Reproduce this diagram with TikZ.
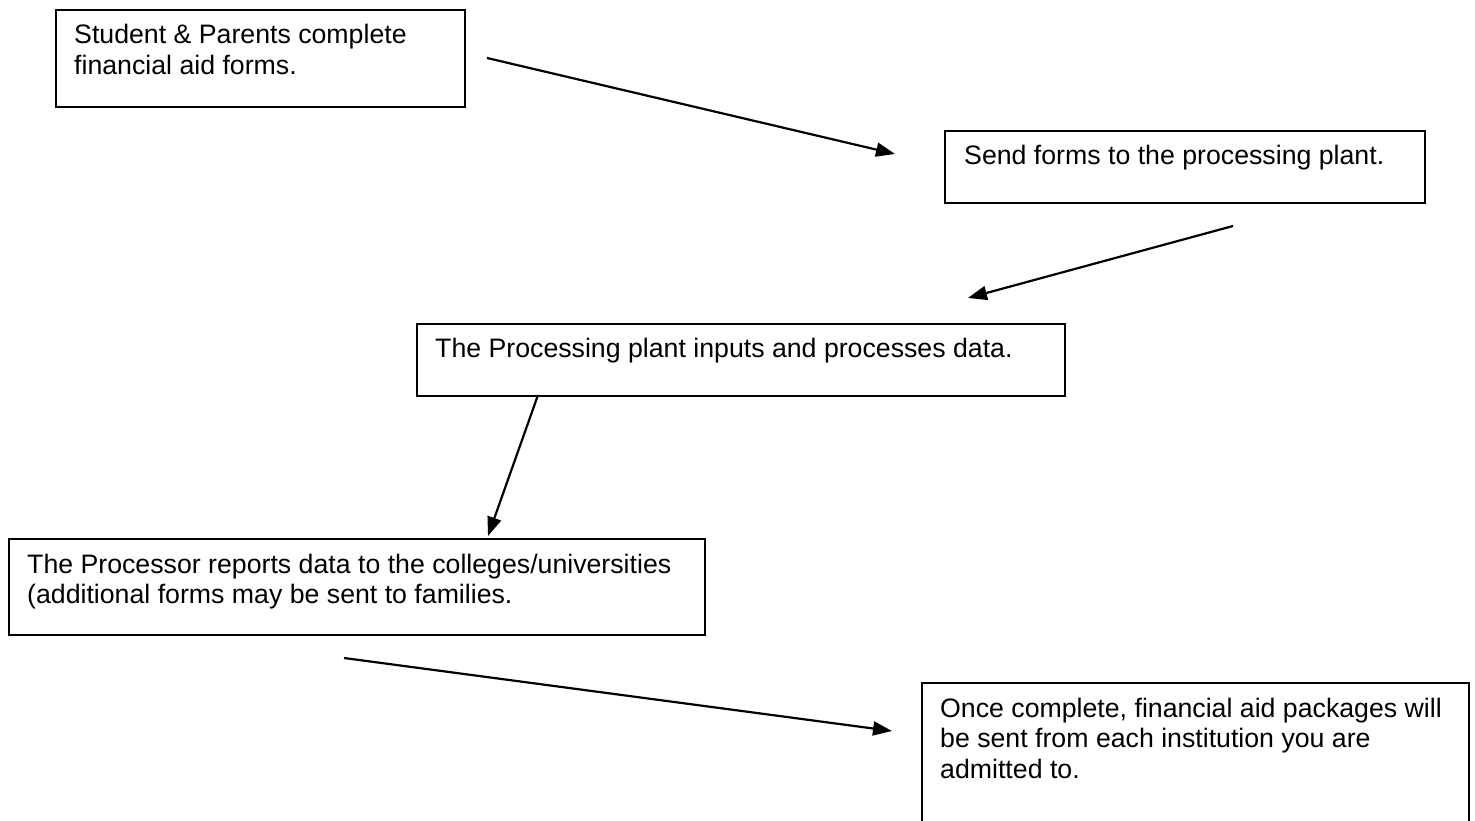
\documentclass[tikz,border=0pt]{standalone}
\usepackage{fontspec}
\setmainfont{Liberation Sans}
\usetikzlibrary{arrows.meta}
\begin{document}
\begin{tikzpicture}[x=1pt,y=-1pt,
  box/.style={draw, line width=1.6pt, rectangle, inner sep=0pt, anchor=north west},
  txt/.style={anchor=base west, inner sep=0pt, align=left, font=\fontsize{26.7}{30.5}\selectfont},
  arr/.style={line width=2.2pt, -{Triangle[length=19pt,width=14pt]}}]
\useasboundingbox (0,0) rectangle (1475,821);
% boxes
\node[box, minimum width=409pt, minimum height=97pt] (b1) at (55,9) {};
\node[box, minimum width=480pt, minimum height=72pt] (b2) at (944,130) {};
\node[box, minimum width=648pt, minimum height=72pt] (b3) at (416,323) {};
\node[box, minimum width=696pt, minimum height=96pt] (b4) at (8,538) {};
\node[box, minimum width=547pt, minimum height=150pt] (b5) at (921,682) {};
% texts
\node[txt] (t1a) at (74,44) {Student \& Parents complete};
\node[txt] (t1b) at (74,74.5) {financial aid forms.};
\node[txt] (t2) at (964,165) {Send forms to the processing plant.};
\node[txt] (t3) at (435,357) {The Processing plant inputs and processes data.};
\node[txt] (t4a) at (27,573) {The Processor reports data to the colleges/universities};
\node[txt] (t4b) at (27,603.5) {(additional forms may be sent to families.};
\node[txt] (t5a) at (940,717) {Once complete, financial aid packages will};
\node[txt] (t5b) at (940,747.5) {be sent from each institution you are};
\node[txt] (t5c) at (940,778) {admitted to.};
% arrow ends
\coordinate (a1) at (487,58);
\coordinate (a2) at (895,154);
\coordinate (c1) at (1233,226);
\coordinate (c2) at (968,298);
\coordinate (d1) at (538,395);
\coordinate (d2) at (488,536);
\coordinate (e1) at (344,658);
\coordinate (e2) at (892,731);
\draw[arr] (a1) -- (a2);
\draw[arr] (c1) -- (c2);
\draw[arr] (d1) -- (d2);
\draw[arr] (e1) -- (e2);
\end{tikzpicture}
\end{document}
